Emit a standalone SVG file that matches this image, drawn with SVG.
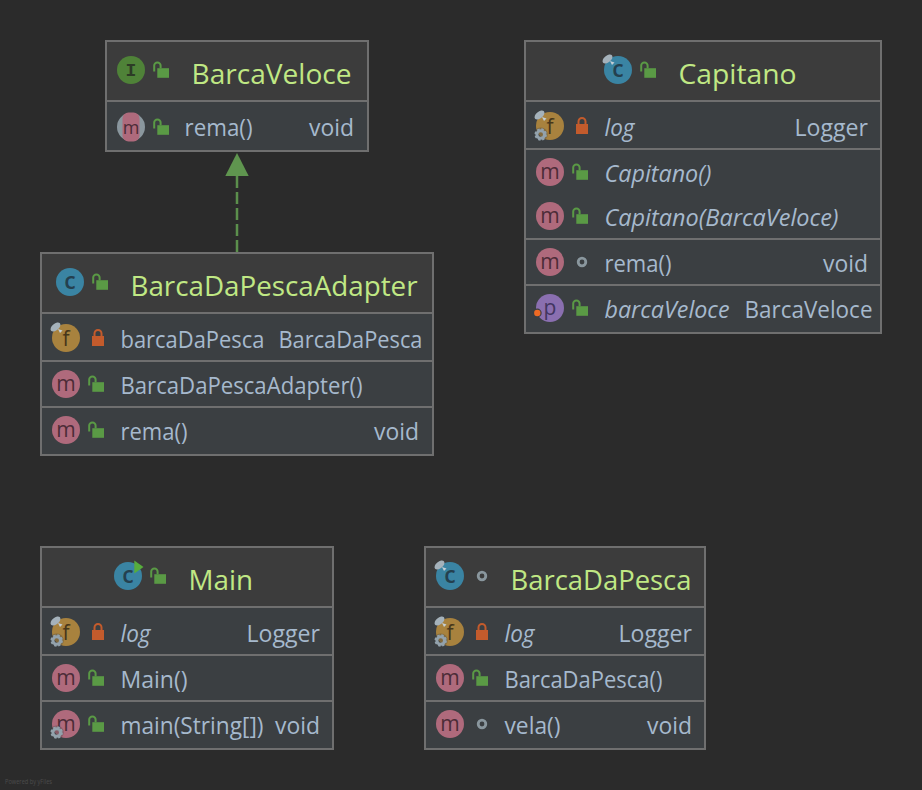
<svg xmlns="http://www.w3.org/2000/svg" xmlns:xlink="http://www.w3.org/1999/xlink" width="922" height="790" viewBox="0 0 922 790">
<style>
text{font-family:"Open Sans","Noto Sans","Liberation Sans",sans-serif}
.body{fill:#3b3f42;stroke:#6f6f6f;stroke-width:2}
.head{fill:#3c3c3c}
.sep{stroke:#6f6f6f;stroke-width:2;fill:none}
.t{font-size:26.5px;fill:#c0e884}
.r{font-size:23px;fill:#a6b9cd}
.i{font-style:italic}
.l{font-size:21px;text-anchor:middle}
.lm{fill:#4c2c37}.lc{fill:#24404f;font-weight:600;font-size:23px}.lf{fill:#46361a}.lI{fill:#2d3b26;font-family:"Liberation Mono",monospace;font-weight:700;font-size:18px}.lp{fill:#423560}
.bm{fill:#af6a7c}.bc{fill:#3a84a3}.bf{fill:#a8823e}.bI{fill:#4f8238}.bp{fill:#8a6fb0}
.edge{stroke:#5b8f4c;stroke-width:2.5;fill:none;stroke-dasharray:12 4}
.head-arrow{fill:#5f954f}
.wm{font-size:6.6px;fill:#4c4c4c}
</style>
<defs>
<g id="lo"><rect x="4.3" y="6.2" width="11.7" height="9.6" fill="#5a9a45"/><path d="M1.2 9.5V3.6a3.2 3.2 0 0 1 6.4 0V6.2" fill="none" stroke="#5a9a45" stroke-width="2"/></g>
<g id="lc"><rect x="-6" y="-1" width="12" height="10" fill="#c35b2c"/><path d="M-3.5 -1V-3.5a3.5 3.5 0 0 1 7 0V-1" fill="none" stroke="#c35b2c" stroke-width="2"/></g>
<circle id="dot" r="3.8" fill="none" stroke="#8a979e" stroke-width="2.8"/>
<g id="pin"><ellipse cx="-10.5" cy="-11" rx="5.8" ry="3.4" transform="rotate(-40 -10.5 -11)" fill="#a5b2bb"/><path d="M-8 -9L-3.5 -7.5L-6 -5Z" fill="#c3ced5"/></g>
<g id="gear"><circle cx="-9.3" cy="8.5" r="7" fill="#3b3f42" opacity=".35"/><circle cx="-9.3" cy="8.5" r="3.8" fill="none" stroke="#93a2ac" stroke-width="3"/><circle cx="-9.3" cy="8.5" r="5.3" fill="none" stroke="#93a2ac" stroke-width="1.8" stroke-dasharray="2.4 1.76"/></g>
</defs>
<rect width="922" height="790" fill="#2b2b2b"/>

<g id="connectors">
<path class="edge" d="M237 252V176"/>
<path class="head-arrow" d="M237 153L248.7 176H225.3Z"/>
</g>

<g id="BarcaVeloce">
<rect class="body" x="106" y="41" width="262" height="110"/>
<rect class="head" x="107" y="42" width="260" height="58"/>
<path class="sep" d="M106 101H368"/>
<circle class="bI" cx="131" cy="70" r="14"/><text class="l lI" x="131" y="76">I</text>
<use xlink:href="#lo" href="#lo" x="153" y="62"/>
<text class="t" x="191.5" y="83.5" textLength="160" lengthAdjust="spacingAndGlyphs">BarcaVeloce</text>
<circle cx="131" cy="127" r="14" fill="#8a979e"/><rect x="122.5" y="112.5" width="17" height="29" rx="6" class="bm"/><text class="l lm" x="131" y="134" style="font-size:18px">m</text>
<use xlink:href="#lo" href="#lo" x="153" y="119"/>
<text class="r" x="184.5" y="136" textLength="68" lengthAdjust="spacingAndGlyphs">rema()</text>
<text class="r" x="309" y="136" textLength="45" lengthAdjust="spacingAndGlyphs">void</text>
</g>

<g id="Capitano">
<rect class="body" x="525" y="41" width="356" height="292"/>
<rect class="head" x="526" y="42" width="354" height="58"/>
<path class="sep" d="M525 101H881M525 149H881M525 239H881M525 285H881"/>
<circle class="bc" cx="618" cy="70" r="14"/><text class="l lc" x="618" y="77">c</text><use xlink:href="#pin" href="#pin" x="618" y="70"/>
<use xlink:href="#lo" href="#lo" x="640" y="62"/>
<text class="t" x="678.5" y="83.5" textLength="118" lengthAdjust="spacingAndGlyphs">Capitano</text>
<circle class="bf" cx="550" cy="126" r="14"/><text class="l lf" x="550" y="134">f</text><use xlink:href="#pin" href="#pin" x="550" y="126"/><use xlink:href="#gear" href="#gear" x="550" y="126"/>
<use xlink:href="#lc" href="#lc" x="582" y="125"/>
<text class="r i" x="604.5" y="136" textLength="30" lengthAdjust="spacingAndGlyphs">log</text>
<text class="r" x="794.5" y="136" textLength="73.5" lengthAdjust="spacingAndGlyphs">Logger</text>
<circle class="bm" cx="550" cy="172" r="14"/><text class="l lm" x="550" y="179">m</text>
<use xlink:href="#lo" href="#lo" x="572" y="164"/>
<text class="r i" x="604.5" y="182" textLength="107" lengthAdjust="spacingAndGlyphs">Capitano()</text>
<circle class="bm" cx="550" cy="216" r="14"/><text class="l lm" x="550" y="223">m</text>
<use xlink:href="#lo" href="#lo" x="572" y="208"/>
<text class="r i" x="604.5" y="226" textLength="234" lengthAdjust="spacingAndGlyphs">Capitano(BarcaVeloce)</text>
<circle class="bm" cx="550" cy="262" r="14"/><text class="l lm" x="550" y="269">m</text>
<use xlink:href="#dot" href="#dot" x="582" y="262"/>
<text class="r" x="604.5" y="272" textLength="67" lengthAdjust="spacingAndGlyphs">rema()</text>
<text class="r" x="823" y="272" textLength="45" lengthAdjust="spacingAndGlyphs">void</text>
<circle class="bp" cx="550" cy="308" r="14"/><text class="l lp" x="550" y="315">p</text>
<circle cx="537.3" cy="313" r="4.4" fill="#3b3f42"/><circle cx="537.3" cy="313" r="3.2" fill="#ee6a24"/>
<use xlink:href="#lo" href="#lo" x="572" y="300"/>
<text class="r i" x="604.5" y="318" textLength="125" lengthAdjust="spacingAndGlyphs">barcaVeloce</text>
<text class="r" x="744.5" y="318" textLength="128" lengthAdjust="spacingAndGlyphs">BarcaVeloce</text>
</g>

<g id="BarcaDaPescaAdapter">
<rect class="body" x="41" y="253" width="392" height="202"/>
<rect class="head" x="42" y="254" width="390" height="58"/>
<path class="sep" d="M41 313H433M41 361H433M41 407H433"/>
<circle class="bc" cx="70" cy="282" r="14"/><text class="l lc" x="70" y="289">c</text>
<use xlink:href="#lo" href="#lo" x="92" y="274"/>
<text class="t" x="130.5" y="295.5" textLength="287" lengthAdjust="spacingAndGlyphs">BarcaDaPescaAdapter</text>
<circle class="bf" cx="66" cy="338" r="14"/><text class="l lf" x="66" y="346">f</text><use xlink:href="#pin" href="#pin" x="66" y="338"/>
<use xlink:href="#lc" href="#lc" x="98" y="337"/>
<text class="r" x="120.5" y="348" textLength="144" lengthAdjust="spacingAndGlyphs">barcaDaPesca</text>
<text class="r" x="278.5" y="348" textLength="144" lengthAdjust="spacingAndGlyphs">BarcaDaPesca</text>
<circle class="bm" cx="66" cy="384" r="14"/><text class="l lm" x="66" y="391">m</text>
<use xlink:href="#lo" href="#lo" x="88" y="376"/>
<text class="r" x="120.5" y="394" textLength="242" lengthAdjust="spacingAndGlyphs">BarcaDaPescaAdapter()</text>
<circle class="bm" cx="66" cy="430" r="14"/><text class="l lm" x="66" y="437">m</text>
<use xlink:href="#lo" href="#lo" x="88" y="422"/>
<text class="r" x="120.5" y="440" textLength="67" lengthAdjust="spacingAndGlyphs">rema()</text>
<text class="r" x="374" y="440" textLength="45" lengthAdjust="spacingAndGlyphs">void</text>
</g>

<g id="Main">
<rect class="body" x="41" y="547" width="292" height="202"/>
<rect class="head" x="42" y="548" width="290" height="58"/>
<path class="sep" d="M41 607H333M41 655H333M41 701H333"/>
<circle class="bc" cx="128" cy="576" r="14"/><text class="l lc" x="128" y="583">c</text>
<path d="M134.3 560.5L143.5 567L134.3 573.5Z" fill="#57ad3c"/>
<use xlink:href="#lo" href="#lo" x="150" y="568"/>
<text class="t" x="188.5" y="589.5" textLength="64.5" lengthAdjust="spacingAndGlyphs">Main</text>
<circle class="bf" cx="66" cy="632" r="14"/><text class="l lf" x="66" y="640">f</text><use xlink:href="#pin" href="#pin" x="66" y="632"/><use xlink:href="#gear" href="#gear" x="66" y="632"/>
<use xlink:href="#lc" href="#lc" x="98" y="631"/>
<text class="r i" x="120.5" y="642" textLength="30" lengthAdjust="spacingAndGlyphs">log</text>
<text class="r" x="246.5" y="642" textLength="73.5" lengthAdjust="spacingAndGlyphs">Logger</text>
<circle class="bm" cx="66" cy="678" r="14"/><text class="l lm" x="66" y="685">m</text>
<use xlink:href="#lo" href="#lo" x="88" y="670"/>
<text class="r" x="120.5" y="688" textLength="67" lengthAdjust="spacingAndGlyphs">Main()</text>
<circle class="bm" cx="66" cy="724" r="14"/><text class="l lm" x="66" y="731">m</text><use xlink:href="#gear" href="#gear" x="66" y="724"/>
<use xlink:href="#lo" href="#lo" x="88" y="716"/>
<text class="r" x="120.5" y="734" textLength="143" lengthAdjust="spacingAndGlyphs">main(String[])</text>
<text class="r" x="275" y="734" textLength="45" lengthAdjust="spacingAndGlyphs">void</text>
</g>

<g id="BarcaDaPesca">
<rect class="body" x="425" y="547" width="280" height="202"/>
<rect class="head" x="426" y="548" width="278" height="58"/>
<path class="sep" d="M425 607H705M425 655H705M425 701H705"/>
<circle class="bc" cx="450" cy="576" r="14"/><text class="l lc" x="450" y="583">c</text><use xlink:href="#pin" href="#pin" x="450" y="576"/>
<use xlink:href="#dot" href="#dot" x="482" y="576"/>
<text class="t" x="510.5" y="589.5" textLength="181" lengthAdjust="spacingAndGlyphs">BarcaDaPesca</text>
<circle class="bf" cx="450" cy="632" r="14"/><text class="l lf" x="450" y="640">f</text><use xlink:href="#pin" href="#pin" x="450" y="632"/><use xlink:href="#gear" href="#gear" x="450" y="632"/>
<use xlink:href="#lc" href="#lc" x="482" y="631"/>
<text class="r i" x="504.5" y="642" textLength="30" lengthAdjust="spacingAndGlyphs">log</text>
<text class="r" x="618.5" y="642" textLength="73.5" lengthAdjust="spacingAndGlyphs">Logger</text>
<circle class="bm" cx="450" cy="678" r="14"/><text class="l lm" x="450" y="685">m</text>
<use xlink:href="#lo" href="#lo" x="472" y="670"/>
<text class="r" x="504.5" y="688" textLength="158" lengthAdjust="spacingAndGlyphs">BarcaDaPesca()</text>
<circle class="bm" cx="450" cy="724" r="14"/><text class="l lm" x="450" y="731">m</text>
<use xlink:href="#dot" href="#dot" x="482" y="724"/>
<text class="r" x="504.5" y="734" textLength="56" lengthAdjust="spacingAndGlyphs">vela()</text>
<text class="r" x="647" y="734" textLength="45" lengthAdjust="spacingAndGlyphs">void</text>
</g>

<text class="wm" x="5" y="784" textLength="47" lengthAdjust="spacingAndGlyphs">Powered by yFiles</text>
</svg>
